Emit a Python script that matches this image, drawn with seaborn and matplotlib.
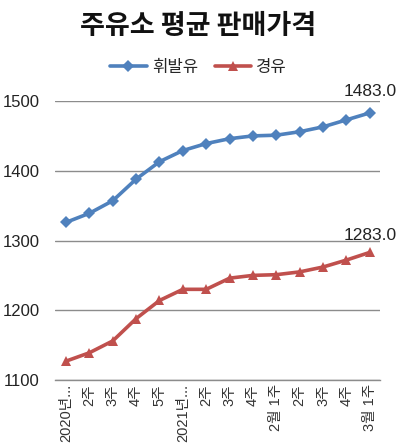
import matplotlib
matplotlib.use("Agg")
import matplotlib.pyplot as plt
import seaborn as sns
import pandas as pd

categories = ["2020년...", "2주", "3주", "4주", "5주", "2021년...", "2주", "3주", "4주",
              "2월 1주", "2주", "3주", "4주", "3월 1주"]
gasoline = [1326, 1339, 1357, 1388, 1413, 1429, 1439, 1446, 1450, 1451, 1456, 1463, 1473, 1483.0]
diesel = [1127, 1139, 1156, 1188, 1214, 1230, 1230, 1246, 1250, 1251, 1255, 1262, 1272, 1283.0]
series_names = ["휘발유", "경유"]
yticks = [1100, 1200, 1300, 1400, 1500]

sns.set_style("white")
plt.rcParams['font.family'] = ['Liberation Sans', 'Noto Sans CJK KR', 'DejaVu Sans']
kr = ['Noto Sans CJK KR', 'DejaVu Sans']
mixed = ['Liberation Sans', 'Noto Sans CJK KR', 'DejaVu Sans']

df = pd.DataFrame({
    "x": list(range(len(categories))) * 2,
    "value": gasoline + diesel,
    "series": [series_names[0]] * len(categories) + [series_names[1]] * len(categories),
})

fig = plt.figure(figsize=(3.97, 4.46), dpi=100)
ax = fig.add_axes([0.1385, 0.148, 0.8185, 0.6255])

palette = {series_names[0]: "#4F81BD", series_names[1]: "#C0504D"}
markers = {series_names[0]: "D", series_names[1]: "^"}
sns.lineplot(data=df, x="x", y="value", hue="series", style="series", palette=palette,
             markers=markers, dashes=False, linewidth=2.6, markersize=6.5,
             markeredgewidth=0, ax=ax, legend=True)

ax.set_ylim(1100, 1500)
ax.set_xlim(-0.47, 13.43)
ax.set_yticks(yticks)
ax.set_yticklabels([str(t) for t in yticks], fontsize=12, color="#222222")
ax.set_xticks(range(len(categories)))
ax.set_xticklabels(categories, rotation=90, fontsize=10.5, color="#333333", family=mixed)
ax.tick_params(axis="both", length=0, pad=3)
ax.tick_params(axis="y", pad=11)
ax.set_xlabel("")
ax.set_ylabel("")
ax.grid(axis="y", color="#8c8c8c", linewidth=1)
ax.set_axisbelow(True)
for s in ["top", "left", "right"]:
    ax.spines[s].set_visible(False)
ax.spines["bottom"].set_color("#8c8c8c")
ax.spines["bottom"].set_linewidth(1)

ax.annotate(f"{gasoline[-1]:.1f}", (len(categories) - 1, gasoline[-1]), xytext=(0, 10),
            textcoords="offset points", ha="center", va="bottom", fontsize=12.5,
            color="#222222", annotation_clip=False)
ax.annotate(f"{diesel[-1]:.1f}", (len(categories) - 1, diesel[-1]), xytext=(0, 7),
            textcoords="offset points", ha="center", va="bottom", fontsize=12.5,
            color="#222222", annotation_clip=False)

handles, labels = ax.get_legend_handles_labels()
leg = fig.legend(handles, labels, loc="center", bbox_to_anchor=(0.5, 0.848), ncol=2,
                 frameon=False, prop={"family": kr, "size": 12}, handlelength=2.2,
                 columnspacing=1.0, handletextpad=0.3)
if ax.get_legend():
    ax.get_legend().remove()

fig.text(0.5, 0.942, "주유소 평균 판매가격", ha="center", va="center", fontsize=19.5,
         fontweight="bold", family=kr, color="#111111")

fig.savefig("out.png", dpi=100)
